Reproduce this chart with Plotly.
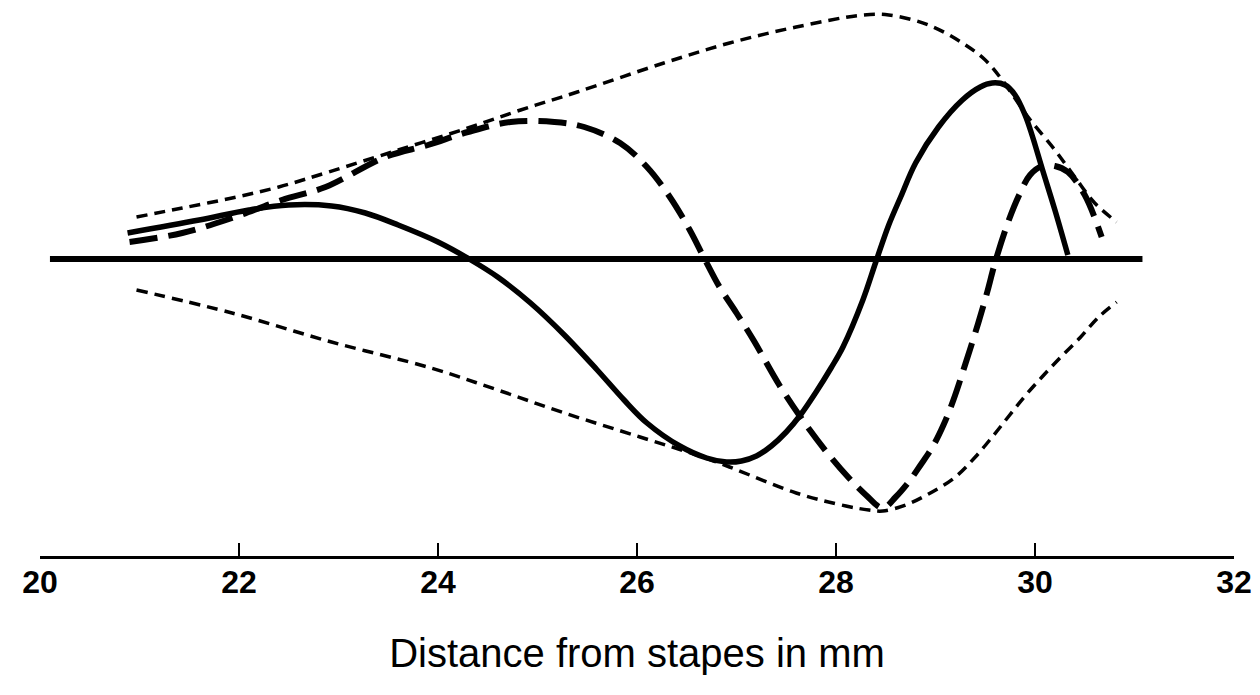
import plotly.graph_objects as go

# Distance from stapes (mm) and relative displacement (arbitrary units)
baseline_x = [20.10, 31.08]
baseline_y = [0.0, 0.0]

upper_env_x = [20.97, 21.43, 21.93, 22.40, 22.90, 23.60, 24.30, 24.83, 25.40, 26.27, 26.93,
               27.60, 28.27, 28.53, 28.93, 29.27, 29.50, 29.67, 29.93, 30.20, 30.40, 30.60, 30.82]
upper_env_y = [0.42, 0.51, 0.61, 0.72, 0.87, 1.09, 1.31, 1.49, 1.67, 1.96, 2.16,
               2.32, 2.44, 2.44, 2.34, 2.16, 1.99, 1.79, 1.42, 1.09, 0.82, 0.56, 0.37]

lower_env_x = [20.97, 21.93, 22.93, 23.93, 24.60, 25.27, 26.03, 26.60, 26.93, 27.60, 28.10,
               28.33, 28.47, 28.70, 28.93, 29.20, 29.40, 29.57, 29.73, 29.90, 30.07, 30.25,
               30.45, 30.63, 30.82]
lower_env_y = [-0.31, -0.54, -0.83, -1.09, -1.31, -1.54, -1.78, -1.96, -2.08, -2.34, -2.47,
               -2.51, -2.52, -2.46, -2.35, -2.18, -1.98, -1.78, -1.58, -1.37, -1.18, -0.99,
               -0.79, -0.59, -0.43]

wave1_x = [20.88, 21.60, 22.10, 22.50, 22.93, 23.27, 23.60, 24.00, 24.33, 24.60, 24.93, 25.27,
           25.60, 25.87, 26.10, 26.43, 26.70, 26.90, 27.05, 27.20, 27.35, 27.50, 27.65, 27.80,
           27.95, 28.07, 28.27, 28.40, 28.53, 28.65, 28.80, 29.03, 29.27, 29.45, 29.57, 29.70,
           29.80, 29.90, 29.97, 30.07, 30.20, 30.33]
wave1_y = [0.26, 0.39, 0.49, 0.54, 0.53, 0.46, 0.34, 0.17, -0.01, -0.18, -0.44, -0.76,
           -1.11, -1.41, -1.64, -1.87, -1.99, -2.03, -2.02, -1.97, -1.87, -1.73, -1.55, -1.33,
           -1.09, -0.88, -0.41, -0.03, 0.34, 0.62, 0.96, 1.32, 1.59, 1.72, 1.76, 1.74,
           1.64, 1.44, 1.24, 0.91, 0.49, 0.04]

wave2_x = [20.90, 21.43, 21.93, 22.43, 22.87, 23.47, 23.90, 24.30, 24.73, 25.17, 25.47, 25.83,
           26.10, 26.33, 26.53, 26.67, 26.83, 27.00, 27.17, 27.43, 27.65, 27.93, 28.13, 28.30,
           28.47, 28.60, 28.73, 28.85, 28.97, 29.08, 29.18, 29.30, 29.43, 29.52, 29.60, 29.73,
           29.85, 29.95, 30.07, 30.20, 30.33, 30.50, 30.67]
wave2_y = [0.17, 0.26, 0.41, 0.59, 0.72, 1.02, 1.14, 1.27, 1.37, 1.37, 1.32, 1.16,
           0.92, 0.62, 0.29, 0.02, -0.28, -0.54, -0.81, -1.26, -1.59, -1.96, -2.19, -2.36,
           -2.49, -2.38, -2.23, -2.06, -1.88, -1.66, -1.41, -1.05, -0.64, -0.33, -0.03, 0.37,
           0.66, 0.84, 0.93, 0.93, 0.87, 0.64, 0.22]

tick_vals = [20, 22, 24, 26, 28, 30, 32]
tick_text = ["20", "22", "24", "26", "28", "30", "32"]

fig = go.Figure()

thin = dict(color="black", width=3.5, dash="11px,7px")
fig.add_trace(go.Scatter(x=upper_env_x, y=upper_env_y, mode="lines", line_shape="spline",
                         line=thin, hoverinfo="skip"))
fig.add_trace(go.Scatter(x=lower_env_x, y=lower_env_y, mode="lines", line_shape="spline",
                         line=thin, hoverinfo="skip"))
fig.add_trace(go.Scatter(x=wave2_x, y=wave2_y, mode="lines", line_shape="spline",
                         line=dict(color="black", width=6, dash="28px,11px"), hoverinfo="skip"))
fig.add_trace(go.Scatter(x=wave1_x, y=wave1_y, mode="lines", line_shape="spline",
                         line=dict(color="black", width=5.5), hoverinfo="skip"))
fig.add_trace(go.Scatter(x=baseline_x, y=baseline_y, mode="lines",
                         line=dict(color="black", width=6), hoverinfo="skip"))

fig.update_layout(
    width=1260, height=695, autosize=False,
    margin=dict(l=40, r=20, t=8, b=139),
    paper_bgcolor="white", plot_bgcolor="white",
    showlegend=False,
    xaxis=dict(
        range=[20, 32], tickvals=tick_vals, ticktext=tick_text,
        showgrid=False, zeroline=False,
        showline=True, linecolor="black", linewidth=3,
        ticks="inside", ticklen=13, tickwidth=2.5, tickcolor="black",
        ticklabelstandoff=-4,
        tickfont=dict(family="Liberation Sans, Arial, sans-serif", size=32, color="black", weight="bold"),
        title=dict(text="Distance from stapes in mm", standoff=40,
                   font=dict(family="Liberation Sans, Arial, sans-serif", size=40, color="black")),
    ),
    yaxis=dict(range=[-2.97, 2.51], visible=False, showgrid=False, zeroline=False),
)

fig.write_html(
    "out.html",
    config={"displayModeBar": False, "responsive": False, "staticPlot": True},
    post_script="document.body.style.margin='0';document.body.style.overflow='hidden';",
)
